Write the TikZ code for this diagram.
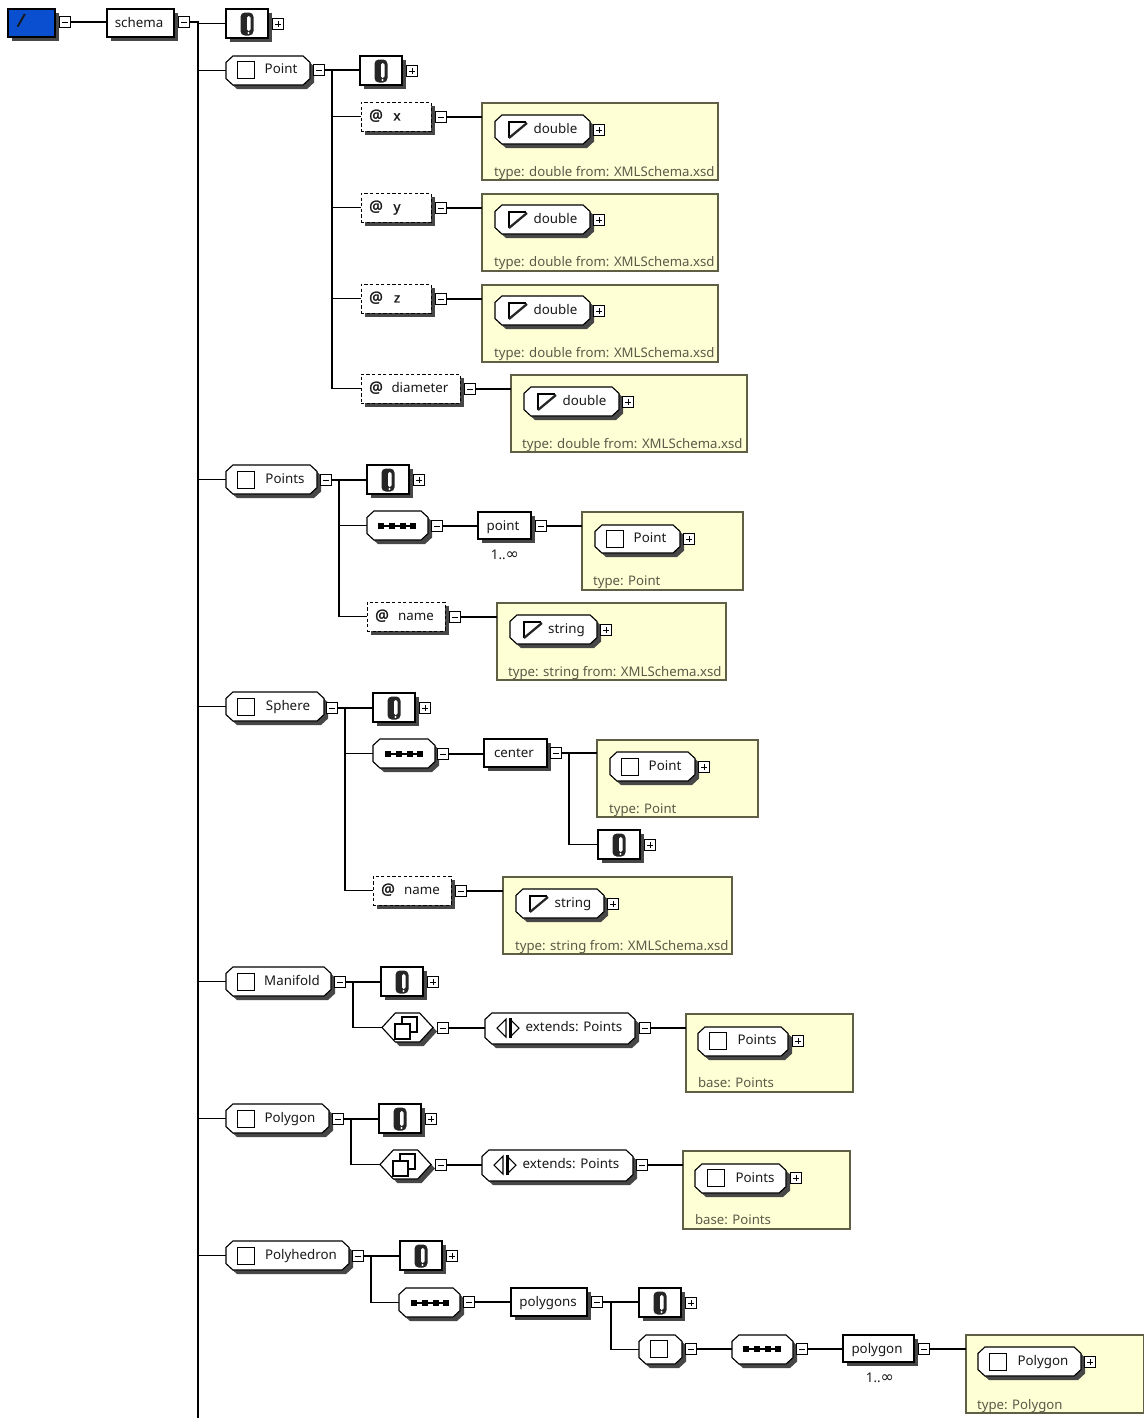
\documentclass[tikz,border=0pt]{standalone}
\usepackage{fontspec}
\setmainfont{Noto Sans}
\newfontfamily\symfont{DejaVu Sans}
\newfontfamily\heavyfont[FakeBold=1.6]{Noto Sans}
\newfontfamily\slashfont[FakeBold=3,FakeSlant=0.2]{Noto Sans}
\newcommand\infsym{{\symfont\fontsize{12pt}{12pt}\selectfont ∞}}
\usetikzlibrary{shadows}
\definecolor{annoY}{HTML}{FFFFD6}
\definecolor{annoB}{HTML}{5F5F45}
\definecolor{annoT}{HTML}{5A5A48}
\definecolor{rootB}{HTML}{0A4FD0}
\newcount\labcount
% octagon and hexagon outlines that keep the rectangle's anchors
\makeatletter
\newcommand\declcut[3]{%
\pgfdeclareshape{#1}{%
  \inheritsavedanchors[from=rectangle]
  \inheritanchorborder[from=rectangle]
  \inheritanchor[from=rectangle]{center}
  \inheritanchor[from=rectangle]{north}
  \inheritanchor[from=rectangle]{south}
  \inheritanchor[from=rectangle]{west}
  \inheritanchor[from=rectangle]{east}
  \backgroundpath{%
    \southwest \pgf@xa=\pgf@x \pgf@ya=\pgf@y
    \northeast \pgf@xb=\pgf@x \pgf@yb=\pgf@y
    \pgf@xc=#2 \pgf@yc=#3
    \ifdim\pgf@yc>0.5\dimexpr\pgf@yb-\pgf@ya\relax \pgf@yc=0.5\dimexpr\pgf@yb-\pgf@ya\relax\fi
    \pgfpathmoveto{\pgfqpoint{\pgf@xa}{\dimexpr\pgf@ya+\pgf@yc}}
    \pgfpathlineto{\pgfqpoint{\dimexpr\pgf@xa+\pgf@xc}{\pgf@ya}}
    \pgfpathlineto{\pgfqpoint{\dimexpr\pgf@xb-\pgf@xc}{\pgf@ya}}
    \pgfpathlineto{\pgfqpoint{\pgf@xb}{\dimexpr\pgf@ya+\pgf@yc}}
    \pgfpathlineto{\pgfqpoint{\pgf@xb}{\dimexpr\pgf@yb-\pgf@yc}}
    \pgfpathlineto{\pgfqpoint{\dimexpr\pgf@xb-\pgf@xc}{\pgf@yb}}
    \pgfpathlineto{\pgfqpoint{\dimexpr\pgf@xa+\pgf@xc}{\pgf@yb}}
    \pgfpathlineto{\pgfqpoint{\pgf@xa}{\dimexpr\pgf@yb-\pgf@yc}}
    \pgfpathclose
  }%
}}
\declcut{octobox}{5.2pt}{4.8pt}
\declcut{hexabox}{10pt}{100pt}
\makeatother
\tikzset{
  x=0.75pt,y=-0.75pt,
  shad/.style={drop shadow={shadow xshift=3pt,shadow yshift=-3pt,fill=black!72,opacity=1}},
  base/.style={draw=black,line width=0.85pt,inner sep=0pt,outer sep=0pt},
  recshape/.style={base,rectangle,fill=white,shad},
  rootshape/.style={base,rectangle,fill=rootB,shad},
  dshshape/.style={base,rectangle,fill=white,line width=0.7pt,dash pattern=on 2.4pt off 1.8pt,shad},
  chshape/.style={base,shape=octobox,fill=white,shad},
  hexshape/.style={base,shape=hexabox,fill=white,shad},
  yelshape/.style={draw=annoB,line width=0.85pt,rectangle,fill=annoY,inner sep=0pt,outer sep=0pt},
  toggle/.style={draw=black,line width=0.7pt,rectangle,fill=white,inner sep=0pt,outer sep=0pt,minimum size=8.2pt},
  minusbox/.style={toggle,path picture={\draw[line width=0.7pt] ([xshift=-2.2pt]path picture bounding box.center) -- ([xshift=2.2pt]path picture bounding box.center);}},
  plusbox/.style={toggle,path picture={\draw[line width=0.7pt] ([xshift=-2.2pt]path picture bounding box.center) -- ([xshift=2.2pt]path picture bounding box.center) ([yshift=-2.2pt]path picture bounding box.center) -- ([yshift=2.2pt]path picture bounding box.center);}},
  conn/.style={draw=black,line width=0.85pt},
  lbl/.style={inner sep=0pt,outer sep=0pt,text height=9pt,text depth=0.8pt,font=\fontsize{10pt}{12pt}\selectfont,text=black!90},
  lblgray/.style={lbl,anchor=west,text=annoT,font=\fontsize{9.9pt}{12pt}\selectfont},
}
% shapes
\newcommand\shapenode[6]{\node[#2,minimum width={((#5)-(#3))*0.75pt},minimum height={((#6)-(#4))*0.75pt}] (#1) at ({((#3)+(#5))/2},{((#4)+(#6))/2}) {};}
\newcommand\recbox[5]{\shapenode{#1}{recshape}{#2}{#3}{#4}{#5}}
\newcommand\dshbox[5]{\shapenode{#1}{dshshape}{#2}{#3}{#4}{#5}}
\newcommand\chbox[5]{\shapenode{#1}{chshape}{#2}{#3}{#4}{#5}}
\newcommand\hexbox[5]{\shapenode{#1}{hexshape}{#2}{#3}{#4}{#5}}
\newcommand\yelbox[5]{\shapenode{#1}{yelshape}{#2}{#3}{#4}{#5}}
\newcommand\mn[3]{\node[minusbox] (#1) at (#2,#3) {};}
\newcommand\pl[3]{\node[plusbox] (#1) at (#2,#3) {};}
\newcommand\lab[3]{\global\advance\labcount by 1 \node[lbl] (lab\the\labcount) at (#1,#2) {#3};}
\newcommand\labg[3]{\global\advance\labcount by 1 \node[lblgray] (lab\the\labcount) at (#1,#2) {#3};}
% icons
\newcommand\clipicon[2]{%
  \begin{scope}[shift={(#1,#2)}]
    \fill[black!85,rounded corners=3.2pt] (-6.5,-11.5) rectangle (6.5,11.5);
    \fill[white,rounded corners=1.2pt] (0,-8) rectangle (3.5,7);
    \fill[white] (1.5,9) circle (1.1);
  \end{scope}}
\newcommand\sqicon[2]{%
  \draw[line width=0.95pt,fill=white] (#1-8.5,#2-8.5) rectangle (#1+8.5,#2+8.5);}
\newcommand\typeicon[2]{%
  \draw[line width=0.8pt] (#1+9,#2-8) -- (#1-8,#2-8) -- (#1-8,#2+8);
  \draw[line width=1.7pt,black!85] (#1-8,#2+8) -- (#1+10,#2-7);}
\newcommand\seqicon[2]{%
  \draw[line width=1pt] (#1-18,#2) -- (#1+18,#2);
  \foreach \dd in {-16,-5.5,5.5,16} {\fill (#1+\dd-3,#2-3) rectangle (#1+\dd+3,#2+3);}}
\newcommand\allicon[2]{%
  \draw[line width=0.9pt,fill=white] (#1-4,#2-11) rectangle (#1+11,#2+4);
  \draw[line width=0.9pt,fill=white] (#1-11,#2-4) rectangle (#1+4,#2+11);}
\newcommand\exticon[2]{%
  \draw[line width=0.8pt,fill=white] (#1-2,#2-9) -- (#1-2,#2+9) -- (#1-11,#2) -- cycle;
  \draw[line width=0.8pt,fill=white] (#1+2,#2-9) -- (#1+11,#2) -- (#1+2,#2+9);
  \draw[line width=1.8pt] (#1+2.5,#2-10) -- (#1+2.5,#2+10);}
% composites
\newcommand\annot[3]{% name, x0, y0
  \recbox{#1}{#2}{#3}{#2+42}{#3+29}
  \clipicon{#2+21}{#3+15}
  \pl{#1p}{#2+52}{#3+15}}
\newcommand\conn[2]{\draw[conn] (#1.east) -- (#1.east -| #2.west);}
\newcommand\tap[2]{\draw[conn] (#1 |- #2.west) -- (#2.west);}
\newcommand\busline[2]{\draw[conn] (#1) -- (#1 |- #2.west);}
% attribute with simple type annotation
\newcommand\attr[8]{% name, x0,y0,x1, text, textx, yellow left, yellow width
  \dshbox{#1}{#2}{#3}{#4}{#3+29}
  \lab{#2+15}{#3+13}{\heavyfont\fontsize{11.5pt}{12pt}\selectfont @}
  \lab{#6}{#3+13}{#5}
  \mn{#1m}{#4+10}{#3+15}
  \yelbox{#1y}{#7}{#3+1}{#7+#8}{#3+78}
  \conn{#1m}{#1y}
}
\newcommand\simpletype[5]{% name, yel left, y0, width of chamfer, typename
  \chbox{#1c}{#2+13}{#3+13}{#2+13+#4}{#3+42}
  \typeicon{#2+35}{#3+28}
  \lab{#2+13+#4/2+13}{#3+26}{#5}
  \pl{#1cp}{#2+13+#4+9}{#3+28}}
\begin{document}
\begin{tikzpicture}
\useasboundingbox (0,0) rectangle (1144,1418);
\fill[white] (0,0) rectangle (1144,1418);
% root
\shapenode{root}{rootshape}{8}{9}{55}{37}
\lab{20}{21}{\slashfont\fontsize{13pt}{13pt}\selectfont /}
\mn{rootm}{65}{22}
\recbox{schema}{107}{9}{174}{37}
\lab{139}{22}{schema}
\mn{schemam}{184}{22}
\conn{rootm}{schema}
\coordinate (bus0) at (198,22);
\coordinate (bus0end) at (198,1418);
\draw[conn] (schemam.east) -- (bus0) -- (bus0end);
\annot{a0}{226}{9}
\tap{bus0}{a0}
% Point
\chbox{pt}{226}{56}{310}{85}
\sqicon{246}{70}
\lab{281}{68}{Point}
\mn{ptm}{319}{70}
\tap{bus0}{pt}
\annot{a1}{360}{56}
\conn{ptm}{a1}
\coordinate (bus1) at (332,70);
\attr{ax}{361}{102}{431}{\heavyfont x}{397}{482}{236}
\simpletype{ax}{482}{102}{95}{double}
\labg{494}{171}{type: double from: XMLSchema.xsd}
\attr{ay}{361}{193}{431}{\heavyfont y}{397}{482}{236}
\simpletype{ay}{482}{192}{95}{double}
\labg{494}{261}{type: double from: XMLSchema.xsd}
\attr{az}{361}{284}{431}{\heavyfont z}{397}{482}{236}
\simpletype{az}{482}{283}{95}{double}
\labg{494}{352}{type: double from: XMLSchema.xsd}
\attr{ad}{361}{374}{460}{diameter}{420}{511}{236}
\simpletype{ad}{511}{374}{95}{double}
\labg{522}{443}{type: double from: XMLSchema.xsd}
\busline{bus1}{ad}
\tap{bus1}{ax}\tap{bus1}{ay}\tap{bus1}{az}\tap{bus1}{ad}
% Points
\chbox{pts}{226}{465}{317}{494}
\sqicon{246}{480}
\lab{285}{478}{Points}
\mn{ptsm}{326}{480}
\tap{bus0}{pts}
\annot{a2}{367}{465}
\conn{ptsm}{a2}
\coordinate (bus2) at (339,480);
\chbox{seq1}{367}{511}{428}{540}
\seqicon{397}{526}
\mn{seq1m}{437}{526}
\recbox{point}{478}{512}{531}{539}
\lab{503}{525}{point}
\mn{pointm}{541}{526}
\lab{505}{554}{1..\infsym}
\conn{seq1m}{point}
\yelbox{pointy}{582}{512}{743}{590}
\conn{pointm}{pointy}
\chbox{ptref}{595}{525}{680}{553}
\sqicon{615}{539}
\lab{650}{537}{Point}
\pl{ptrefp}{689}{539}
\labg{593}{580}{type: Point}
\attr{an}{367}{602}{445}{name}{416}{497}{229}
\simpletype{an}{497}{602}{87}{string}
\labg{508}{671}{type: string from: XMLSchema.xsd}
\busline{bus2}{an}
\tap{bus2}{seq1}\tap{bus2}{an}
% Sphere
\chbox{sph}{226}{692}{324}{721}
\sqicon{246}{707}
\lab{288}{705}{Sphere}
\mn{sphm}{332}{708}
\tap{bus0}{sph}
\annot{a3}{373}{693}
\conn{sphm}{a3}
\coordinate (bus3) at (345,708);
\chbox{seq2}{373}{739}{435}{768}
\seqicon{404}{754}
\mn{seq2m}{443}{754}
\recbox{center}{484}{739}{547}{767}
\lab{514}{752}{center}
\mn{centerm}{556}{753}
\conn{seq2m}{center}
\yelbox{centery}{597}{740}{758}{817}
\conn{centerm}{centery}
\chbox{ptref2}{610}{752}{695}{781}
\sqicon{630}{767}
\lab{665}{765}{Point}
\pl{ptref2p}{704}{767}
\labg{609}{808}{type: Point}
\annot{a4}{598}{830}
\coordinate (bus4) at (569,753);
\busline{bus4}{a4}
\tap{bus4}{a4}
\attr{bn}{373}{876}{451}{name}{422}{503}{229}
\simpletype{bn}{503}{876}{88}{string}
\labg{515}{945}{type: string from: XMLSchema.xsd}
\busline{bus3}{bn}
\tap{bus3}{seq2}\tap{bus3}{bn}
% Manifold
\chbox{man}{226}{967}{331}{996}
\sqicon{246}{982}
\lab{292}{980}{Manifold}
\mn{manm}{340}{982}
\tap{bus0}{man}
\annot{a5}{381}{967}
\conn{manm}{a5}
\coordinate (bus5) at (353,982);
\hexbox{hex1}{382}{1013}{433}{1042}
\allicon{406}{1028}
\mn{hex1m}{443}{1028}
\tap{bus5}{hex1}
\busline{bus5}{hex1}
\chbox{ext1}{485}{1013}{635}{1044}
\exticon{508}{1028}
\lab{574}{1026}{extends: Points}
\mn{ext1m}{645}{1028}
\conn{hex1m}{ext1}
\yelbox{ext1y}{686}{1014}{853}{1092}
\conn{ext1m}{ext1y}
\chbox{ptsref1}{698}{1027}{788}{1056}
\sqicon{718}{1041}
\lab{757}{1039}{Points}
\pl{ptsref1p}{798}{1041}
\labg{698}{1082}{base: Points}
% Polygon
\chbox{pgn}{226}{1104}{329}{1133}
\sqicon{246}{1119}
\lab{290}{1117}{Polygon}
\mn{pgnm}{338}{1119}
\tap{bus0}{pgn}
\annot{a6}{379}{1104}
\conn{pgnm}{a6}
\coordinate (bus6) at (351,1119);
\hexbox{hex2}{380}{1150}{431}{1179}
\allicon{404}{1165}
\mn{hex2m}{441}{1165}
\tap{bus6}{hex2}
\busline{bus6}{hex2}
\chbox{ext2}{482}{1150}{633}{1181}
\exticon{505}{1165}
\lab{571}{1163}{extends: Points}
\mn{ext2m}{642}{1165}
\conn{hex2m}{ext2}
\yelbox{ext2y}{683}{1151}{850}{1229}
\conn{ext2m}{ext2y}
\chbox{ptsref2}{695}{1164}{786}{1193}
\sqicon{716}{1178}
\lab{755}{1177}{Points}
\pl{ptsref2p}{796}{1178}
\labg{695}{1219}{base: Points}
% Polyhedron
\chbox{phd}{226}{1241}{349}{1270}
\sqicon{246}{1256}
\lab{301}{1254}{Polyhedron}
\mn{phdm}{358}{1256}
\tap{bus0}{phd}
\annot{a7}{400}{1241}
\conn{phdm}{a7}
\coordinate (bus7) at (371,1256);
\chbox{seq3}{399}{1288}{460}{1317}
\seqicon{430}{1303}
\mn{seq3m}{469}{1302}
\tap{bus7}{seq3}
\busline{bus7}{seq3}
\recbox{polys}{511}{1288}{587}{1316}
\lab{548}{1301}{polygons}
\mn{polysm}{597}{1302}
\conn{seq3m}{polys}
\annot{a8}{639}{1288}
\conn{polysm}{a8}
\coordinate (bus8) at (611,1302);
\chbox{refe}{639}{1335}{682}{1364}
\sqicon{659}{1349}
\mn{refem}{691}{1349}
\tap{bus8}{refe}
\busline{bus8}{refe}
\chbox{seq4}{732}{1335}{793}{1364}
\seqicon{762}{1349}
\mn{seq4m}{802}{1349}
\conn{refem}{seq4}
\recbox{poly}{843}{1335}{914}{1362}
\lab{877}{1348}{polygon}
\lab{880}{1377}{1..\infsym}
\mn{polym}{924}{1349}
\conn{seq4m}{poly}
\yelbox{polyy}{966}{1335}{1144}{1413}
\conn{polym}{polyy}
\chbox{pgref}{978}{1347}{1081}{1376}
\sqicon{998}{1362}
\lab{1043}{1360}{Polygon}
\pl{pgrefp}{1090}{1362}
\labg{977}{1404}{type: Polygon}
\end{tikzpicture}
\end{document}
